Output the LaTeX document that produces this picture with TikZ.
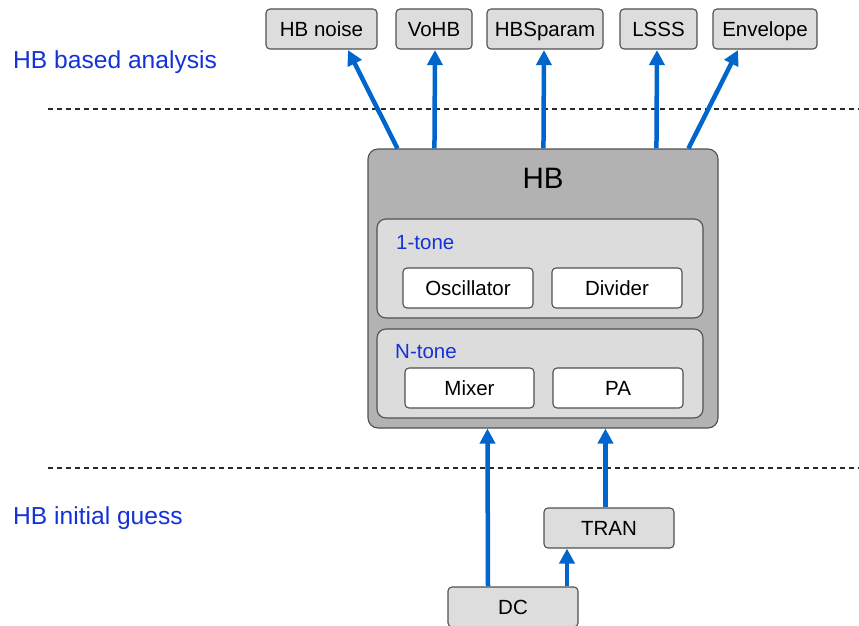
\documentclass[tikz,border=0pt]{standalone}
\usepackage{fontspec}
\setmainfont{Liberation Sans}
\usetikzlibrary{arrows.meta,calc}
\definecolor{arrowblue}{RGB}{0,102,204}
\definecolor{labelblue}{RGB}{20,50,215}
\definecolor{boxgray}{RGB}{221,221,221}
\definecolor{hbgray}{RGB}{178,178,178}
\definecolor{grpgray}{RGB}{220,220,220}
\definecolor{edgegray}{RGB}{80,80,80}
\definecolor{dashgray}{RGB}{40,40,40}
\begin{document}
\begin{tikzpicture}[x=1pt,y=-1pt,
  txt/.style={font=\fontsize{20.5}{24}\selectfont, text height=14.6pt, text depth=0pt, inner sep=0pt},
  toolbox/.style={txt, draw=edgegray, line width=1.1pt, fill=boxgray, rounded corners=4pt, minimum height=40pt},
  subbox/.style={txt, draw=edgegray, line width=1.1pt, fill=white, rounded corners=4pt, minimum height=40pt, minimum width=130pt},
  grpbox/.style={draw=edgegray, line width=1.1pt, fill=grpgray, rounded corners=9pt, inner sep=0pt},
  bigbox/.style={draw=edgegray, line width=1.1pt, fill=hbgray, rounded corners=10pt, inner sep=0pt},
  grplabel/.style={font=\fontsize{20.5}{24}\selectfont, text=labelblue, anchor=west, text height=14.6pt, text depth=0pt, inner sep=0pt},
  seclabel/.style={font=\fontsize{24.6}{28}\selectfont, text=labelblue, anchor=west, text height=17.6pt, text depth=0pt, inner sep=0pt},
  flow/.style={draw=arrowblue, line width=4.5pt, -{Triangle[width=15pt,length=15pt]}},
  sep/.style={draw=dashgray, line width=1.1pt, dash pattern=on 5pt off 4pt}
]
\useasboundingbox (0,0) rectangle (859,626);

% separators
\coordinate (s1l) at (48,109);
\coordinate (s1r) at (859,109);
\coordinate (s2l) at (48,468);
\coordinate (s2r) at (859,468);
\draw[sep] (s1l) -- (s1r);
\draw[sep] (s2l) -- (s2r);

% section labels
\node[seclabel] (lab1) at (13,60) {HB based analysis};
\node[seclabel] (lab2) at (13,516) {HB initial guess};

% top analysis boxes
\node[toolbox, minimum width=111pt] (hbnoise) at (321.5,29) {HB noise};
\node[toolbox, minimum width=76pt] (vohb) at (434,29) {VoHB};
\node[toolbox, minimum width=116pt] (hbsparam) at (545,29) {HBSparam};
\node[toolbox, minimum width=77pt] (lsss) at (658.5,29) {LSSS};
\node[toolbox, minimum width=104pt] (envelope) at (765,29) {Envelope};

% HB box
\node[bigbox, minimum width=350pt, minimum height=279pt] (hb) at (543,288.5) {};
\node[font=\fontsize{29.5}{34}\selectfont, text height=21.1pt, text depth=0pt, inner sep=0pt] (hbtitle) at (543,178) {HB};

\node[grpbox, minimum width=326pt, minimum height=99pt] (onetone) at (540,268.5) {};
\node[grplabel] (onelab) at (396,242) {1-tone};
\node[subbox] (osc) at (468,288) {Oscillator};
\node[subbox] (div) at (617,288) {Divider};

\node[grpbox, minimum width=326pt, minimum height=89pt] (ntone) at (540,373.5) {};
\node[grplabel] (nlab) at (395,351) {N-tone};
\node[subbox, minimum width=129pt] (mixer) at (469.5,388) {Mixer};
\node[subbox] (pa) at (618,388) {PA};

% bottom boxes
\node[toolbox, minimum width=130pt] (tran) at (609,528) {TRAN};
\node[toolbox, minimum width=130pt] (dc) at (513,607) {DC};

% arrows up from HB
\draw[flow] ($(hb.north west)+(30,0)$) -- ($(hbnoise.south)+(26.5,0.5)$);
\draw[flow] ($(hb.north west)+(67,0)$) -- ($(vohb.south)+(1,0.5)$);
\draw[flow] ($(hb.north west)+(176,0)$) -- ($(hbsparam.south)+(-1,0.5)$);
\draw[flow] ($(hb.north west)+(289,0)$) -- ($(lsss.south)+(-1.5,0.5)$);
\draw[flow] ($(hb.north west)+(321,0)$) -- ($(envelope.south)+(-27,0.5)$);

% arrows into HB
\draw[flow] ($(dc.north)+(-25,0)$) -- ($(hb.south west)+(120,0)$);
\draw[flow] (tran.north -| {$(hb.south west)+(238,0)$}) -- ($(hb.south west)+(238,0)$);
\draw[flow] ($(dc.north)+(54,0)$) -- ($(tran.south)+(-42,0)$);
\end{tikzpicture}
\end{document}
